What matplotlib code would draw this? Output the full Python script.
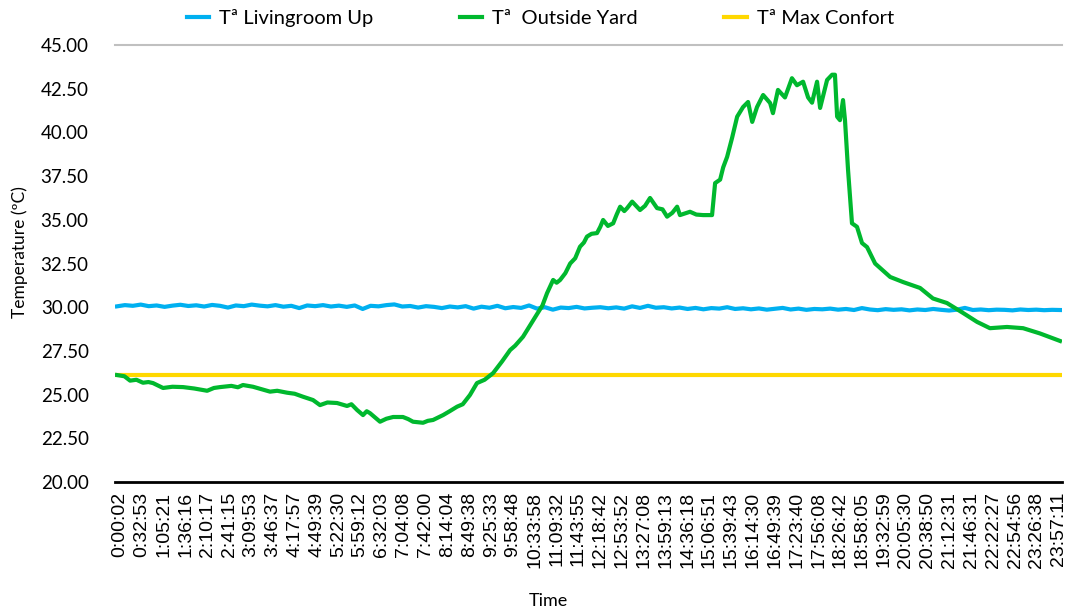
import numpy as np
import matplotlib.pyplot as plt

# ---------------------------------------------------------------------------
# Datos
# ---------------------------------------------------------------------------
time_labels = ["0:00:02", "0:32:53", "1:05:21", "1:36:16", "2:10:17", "2:41:15",
               "3:09:53", "3:46:37", "4:17:57", "4:49:39", "5:22:30", "5:59:12",
               "6:32:03", "7:04:08", "7:42:00", "8:14:04", "8:49:38", "9:25:33",
               "9:58:48", "10:33:58", "11:09:32", "11:43:55", "12:18:42", "12:53:52",
               "13:27:08", "13:59:13", "14:36:18", "15:06:51", "15:39:43", "16:14:30",
               "16:49:39", "17:23:40", "17:56:08", "18:26:42", "18:58:05", "19:32:59",
               "20:05:30", "20:38:50", "21:12:31", "21:46:31", "22:22:27", "22:54:56",
               "23:26:38", "23:57:11"]

# posición (en índice de etiqueta) y temperatura del sensor exterior
outside_pos = [-0.14, 0.20, 0.46, 0.75, 1.05, 1.30, 1.51, 1.97, 2.40, 2.89,
               3.40, 3.99, 4.30, 4.58, 5.10, 5.40, 5.63, 6.09, 6.50, 6.87,
               7.20, 7.65, 8.00, 8.38, 8.84, 9.16, 9.50, 9.94, 10.40, 10.60,
               10.86, 11.13, 11.30, 11.45, 11.91, 12.20, 12.51, 12.96, 13.20, 13.42,
               13.88, 14.10, 14.34, 14.80, 15.10, 15.44, 15.70, 16.03, 16.35, 16.70,
               17.09, 17.50, 17.87, 18.10, 18.46, 18.80, 19.10, 19.35, 19.56, 19.84,
               20.00, 20.16, 20.40, 20.62, 20.85, 21.07, 21.25, 21.39, 21.60, 21.85,
               22.00, 22.13, 22.35, 22.59, 22.75, 22.91, 23.10, 23.23, 23.46, 23.82,
               24.05, 24.28, 24.60, 24.85, 25.06, 25.30, 25.52, 25.65, 26.11, 26.40,
               26.71, 27.12, 27.26, 27.49, 27.63, 27.81, 28.04, 28.27, 28.54, 28.77,
               28.96, 29.18, 29.46, 29.78, 29.91, 30.14, 30.46, 30.78, 31.01, 31.29,
               31.52, 31.70, 31.93, 32.07, 32.39, 32.62, 32.75, 32.85, 32.98, 33.12,
               33.21, 33.35, 33.53, 33.76, 33.99, 34.22, 34.59, 35.28, 35.87, 36.65,
               37.24, 37.88, 38.62, 39.26, 39.85, 40.63, 41.37, 42.14, 43.06]
outside_temp = [26.12, 26.05, 25.80, 25.85, 25.68, 25.72, 25.66, 25.38, 25.45, 25.43,
                25.35, 25.22, 25.38, 25.43, 25.50, 25.42, 25.55, 25.45, 25.30, 25.17,
                25.22, 25.11, 25.05, 24.88, 24.69, 24.40, 24.55, 24.52, 24.35, 24.45,
                24.12, 23.83, 24.05, 23.94, 23.45, 23.62, 23.72, 23.72, 23.60, 23.45,
                23.39, 23.50, 23.55, 23.83, 24.05, 24.31, 24.45, 24.98, 25.66, 25.85,
                26.23, 26.90, 27.55, 27.80, 28.31, 29.00, 29.60, 30.10, 30.80, 31.56,
                31.40, 31.56, 31.95, 32.50, 32.80, 33.46, 33.70, 34.04, 34.20, 34.24,
                34.60, 34.99, 34.65, 34.80, 35.30, 35.75, 35.50, 35.67, 36.04, 35.56,
                35.80, 36.25, 35.67, 35.60, 35.18, 35.40, 35.75, 35.27, 35.46, 35.30,
                35.27, 35.27, 37.10, 37.30, 38.00, 38.60, 39.70, 40.90, 41.45, 41.74,
                40.60, 41.45, 42.14, 41.68, 41.10, 42.43, 42.00, 43.10, 42.70, 42.90,
                42.00, 41.70, 42.90, 41.40, 43.00, 43.30, 43.30, 40.90, 40.70, 41.85,
                40.70, 37.85, 34.80, 34.60, 33.67, 33.44, 32.50, 31.73, 31.44, 31.10,
                30.50, 30.24, 29.67, 29.16, 28.80, 28.87, 28.80, 28.50, 28.07]

# temperatura del salón (muestras equiespaciadas en el día)
livingroom_temp = [30.05, 30.12, 30.08, 30.15, 30.06, 30.10, 30.02, 30.09, 30.14, 30.07,
                   30.11, 30.04, 30.13, 30.08, 29.98, 30.10, 30.06, 30.15, 30.09, 30.05,
                   30.12, 30.03, 30.08, 29.95, 30.10, 30.06, 30.12, 30.04, 30.09, 30.02,
                   30.10, 29.90, 30.08, 30.05, 30.12, 30.16, 30.04, 30.07, 29.98, 30.06,
                   30.02, 29.95, 30.04, 29.99, 30.06, 29.92, 30.03, 29.97, 30.08, 29.94,
                   30.01, 29.96, 30.10, 29.92, 30.00, 29.86, 29.98, 29.95, 30.02, 29.93,
                   29.97, 30.00, 29.94, 29.99, 29.92, 30.05, 29.96, 30.08, 29.97, 30.00,
                   29.93, 29.98, 29.90, 29.96, 29.88, 29.95, 29.92, 30.00, 29.90, 29.94,
                   29.88, 29.93, 29.86, 29.91, 29.96, 29.87, 29.92, 29.85, 29.90, 29.88,
                   29.92, 29.86, 29.90, 29.84, 29.95, 29.87, 29.83, 29.89, 29.85, 29.88,
                   29.82, 29.87, 29.84, 29.90, 29.85, 29.81, 29.86, 29.96, 29.84, 29.87,
                   29.83, 29.86, 29.85, 29.82, 29.87, 29.84, 29.86, 29.83, 29.85, 29.84]

max_confort = 26.1
y_ticks = [20.0, 22.5, 25.0, 27.5, 30.0, 32.5, 35.0, 37.5, 40.0, 42.5, 45.0]

# ---------------------------------------------------------------------------
# Figura
# ---------------------------------------------------------------------------
C_BLUE = "#00B0F0"
C_GREEN = "#00B82E"
C_YELLOW = "#FFD800"
FONT = "Lato"

fig = plt.figure(figsize=(10.7, 6.09), dpi=100)
ax = fig.add_axes([0.1075, 0.2085, 0.885, 0.7176])

x_start, x_end = outside_pos[0], outside_pos[-1]
x_living = np.linspace(x_start, x_end, len(livingroom_temp))

ax.plot(x_living, livingroom_temp, color=C_BLUE, lw=3.0, label="Tª Livingroom Up", zorder=3)
ax.plot(outside_pos, outside_temp, color=C_GREEN, lw=3.0, label="Tª  Outside Yard", zorder=4)
ax.plot([x_start, x_end], [max_confort, max_confort], color=C_YELLOW, lw=3.0,
        label="Tª Max Confort", zorder=2)

ax.set_xlim(-0.23, 43.15)
ax.set_ylim(20, 45)

ax.set_xticks(range(len(time_labels)))
ax.set_xticklabels(time_labels, rotation=90, fontsize=14, family="Liberation Sans")
ax.set_yticks(y_ticks)
ax.set_yticklabels([f"{v:.2f}" for v in y_ticks], fontsize=13.5, family=FONT)
ax.tick_params(axis="x", length=0, pad=7)
ax.tick_params(axis="y", length=0, pad=19)

for side in ["left", "right"]:
    ax.spines[side].set_visible(False)
ax.spines["top"].set_color("#c0c0c0")
ax.spines["top"].set_linewidth(1.5)
ax.spines["bottom"].set_color("black")
ax.spines["bottom"].set_linewidth(2.0)

ax.set_xlabel("Time", fontsize=13, family=FONT)
ax.xaxis.set_label_coords((548 - 115) / 947, -0.254)
ax.set_ylabel("Temperature (ºC)", fontsize=12.5, family=FONT)
ax.yaxis.set_label_coords(-0.092, 0.526)

fig.legend(loc="center", bbox_to_anchor=(0.505, 0.97), ncol=3, frameon=False,
           handlelength=1.1, handletextpad=0.5, columnspacing=4.3,
           prop={"family": FONT, "size": 14.5})

fig.savefig("out.png", dpi=100)
